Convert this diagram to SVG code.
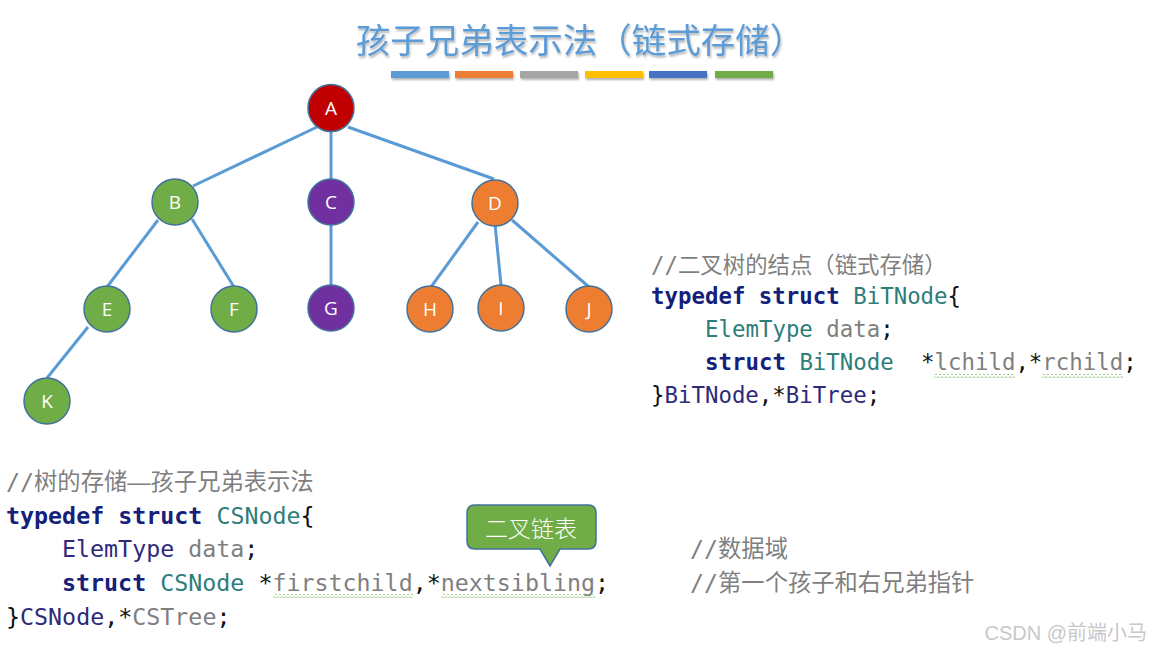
<svg xmlns="http://www.w3.org/2000/svg" width="1152" height="653" viewBox="0 0 1152 653">
<style>
.edge{stroke:#5b9bd5;stroke-width:3;fill:none}
.node{stroke:#41719c;stroke-width:1.5}
.lbl{font-family:"Open Sans","Noto Sans",sans-serif;font-size:19px;fill:#fff;text-anchor:middle}
.code{font-family:"DejaVu Sans Mono","Noto Sans CJK SC",monospace;font-size:23.3px;white-space:pre}
.codeR{font-family:"DejaVu Sans Mono","Noto Sans CJK SC",monospace;font-size:22.4px;white-space:pre}
.kw{fill:#14207a;font-weight:bold}
.ty{fill:#2e7d7a}
.ty2{fill:#2e2a7a}
.gr{fill:#7f7f7f}
.bk{fill:#111}
.cm{fill:#7f7f7f}
.sq{fill:url(#wave)}
</style>
<defs>
<pattern id="wave" width="4" height="4" patternUnits="userSpaceOnUse">
<path d="M0 3 L1 1.5 L2 0.5 L3 1.5 L4 3" stroke="#8fc27a" stroke-width="1" fill="none"/>
</pattern>
<filter id="sh" x="-10%" y="-50%" width="120%" height="250%">
<feDropShadow dx="1" dy="2" stdDeviation="1" flood-color="#000" flood-opacity="0.3"/>
</filter>
</defs>
<rect width="1152" height="653" fill="#fff"/>
<g id="title">
<text x="580" y="53" font-family="Noto Sans CJK SC,sans-serif" font-size="34.5" fill="#5b9bd5" text-anchor="middle" filter="url(#sh)">孩子兄弟表示法（链式存储）</text>
<g filter="url(#sh)">
<rect x="391" y="71" width="58" height="7" fill="#5b9bd5"/>
<rect x="455" y="71" width="58" height="7" fill="#ed7d31"/>
<rect x="520" y="71" width="58" height="7" fill="#a5a5a5"/>
<rect x="585" y="71" width="58" height="7" fill="#ffc000"/>
<rect x="649" y="71" width="58" height="7" fill="#4472c4"/>
<rect x="715" y="71" width="58" height="7" fill="#70ad47"/>
</g>
</g>
<g id="connectors">
<line class="edge" x1="317" y1="127" x2="193" y2="186"/>
<line class="edge" x1="331" y1="132" x2="331" y2="179"/>
<line class="edge" x1="348" y1="127" x2="494" y2="179"/>
<line class="edge" x1="158" y1="220" x2="107" y2="287"/>
<line class="edge" x1="192" y1="219" x2="234" y2="287"/>
<line class="edge" x1="331" y1="225" x2="331" y2="285"/>
<line class="edge" x1="478" y1="222" x2="431" y2="287"/>
<line class="edge" x1="495" y1="224" x2="501" y2="285"/>
<line class="edge" x1="512" y1="220" x2="589" y2="287"/>
<line class="edge" x1="88" y1="327" x2="47" y2="378"/>
</g>
<g id="node-A"><ellipse class="node" cx="331" cy="108" rx="23" ry="23.5" fill="#c00000"/><text class="lbl" x="331" y="115">A</text></g>
<g id="node-B"><ellipse class="node" cx="175" cy="202" rx="23" ry="23" fill="#70ad47"/><text class="lbl" x="175" y="209">B</text></g>
<g id="node-C"><ellipse class="node" cx="331" cy="202" rx="23" ry="23" fill="#7030a0"/><text class="lbl" x="331" y="209">C</text></g>
<g id="node-D"><ellipse class="node" cx="495" cy="203" rx="23" ry="23" fill="#ed7d31"/><text class="lbl" x="495" y="210">D</text></g>
<g id="node-E"><ellipse class="node" cx="107" cy="309" rx="23" ry="23" fill="#70ad47"/><text class="lbl" x="107" y="316">E</text></g>
<g id="node-F"><ellipse class="node" cx="234" cy="309" rx="23" ry="23" fill="#70ad47"/><text class="lbl" x="234" y="316">F</text></g>
<g id="node-G"><ellipse class="node" cx="331" cy="308" rx="23" ry="23" fill="#7030a0"/><text class="lbl" x="331" y="315">G</text></g>
<g id="node-H"><ellipse class="node" cx="430" cy="309" rx="23" ry="23" fill="#ed7d31"/><text class="lbl" x="430" y="316">H</text></g>
<g id="node-I"><ellipse class="node" cx="501" cy="308" rx="23" ry="23" fill="#ed7d31"/><text class="lbl" x="501" y="315">I</text></g>
<g id="node-J"><ellipse class="node" cx="589" cy="309" rx="23" ry="23" fill="#ed7d31"/><text class="lbl" x="589" y="316">J</text></g>
<g id="node-K"><ellipse class="node" cx="47" cy="401" rx="23" ry="23" fill="#70ad47"/><text class="lbl" x="47" y="408">K</text></g>
<g id="code-bitnode" class="codeR">
<text x="651" y="273" class="cm">//二叉树的结点（链式存储）</text>
<text x="651" y="304"><tspan class="kw">typedef struct</tspan> <tspan class="ty">BiTNode</tspan><tspan class="bk">{</tspan></text>
<text x="705" y="337"><tspan class="ty">ElemType</tspan> <tspan class="gr">data</tspan><tspan class="bk">;</tspan></text>
<text x="705" y="370"><tspan class="kw">struct</tspan> <tspan class="ty">BiTNode</tspan><tspan class="bk" x="921">*</tspan><tspan class="gr">lchild</tspan><tspan class="bk">,*</tspan><tspan class="gr">rchild</tspan><tspan class="bk">;</tspan></text>
<text x="651" y="403"><tspan class="bk">}</tspan><tspan class="ty2">BiTNode</tspan><tspan class="bk">,*</tspan><tspan class="ty2">BiTree</tspan><tspan class="bk">;</tspan></text>
<rect class="sq" x="934" y="374" width="81" height="4"/>
<rect class="sq" x="1042" y="374" width="81" height="4"/>
</g>
<g id="code-csnode" class="code">
<text x="6" y="490" class="cm">//树的存储<tspan font-family="Liberation Sans,sans-serif">—</tspan>孩子兄弟表示法</text>
<text x="6" y="524"><tspan class="kw">typedef struct</tspan> <tspan class="ty">CSNode</tspan><tspan class="bk">{</tspan></text>
<text x="62" y="557"><tspan class="ty2">ElemType</tspan> <tspan class="gr">data</tspan><tspan class="bk">;</tspan></text>
<text x="62" y="591"><tspan class="kw">struct</tspan> <tspan class="ty">CSNode</tspan> <tspan class="bk">*</tspan><tspan class="gr">firstchild</tspan><tspan class="bk">,*</tspan><tspan class="gr">nextsibling</tspan><tspan class="bk">;</tspan></text>
<text x="6" y="625"><tspan class="bk">}</tspan><tspan class="ty2">CSNode</tspan><tspan class="bk">,*</tspan><tspan class="gr">CSTree</tspan><tspan class="bk">;</tspan></text>
<rect class="sq" x="273" y="594" width="140" height="4"/>
<rect class="sq" x="441" y="594" width="154" height="4"/>
</g>
<g id="comments" class="code">
<text x="690" y="557" class="cm">//数据域</text>
<text x="690" y="591" class="cm">//第一个孩子和右兄弟指针</text>
</g>
<g id="callout">
<path d="M475 505 H588 Q596 505 596 513 V541 Q596 549 588 549 H560 L550 566 L540 549 H475 Q467 549 467 541 V513 Q467 505 475 505 Z" fill="#70ad47" stroke="#41719c" stroke-width="1.5"/>
<text x="531" y="537" font-family="Noto Sans CJK SC,sans-serif" font-size="23" font-weight="300" fill="#fff" text-anchor="middle">二叉链表</text>
</g>
<text x="1147" y="640" font-family="Liberation Sans,Noto Sans CJK SC,sans-serif" font-size="20" fill="#c8c8c8" text-anchor="end">CSDN @前端小马</text>
</svg>
